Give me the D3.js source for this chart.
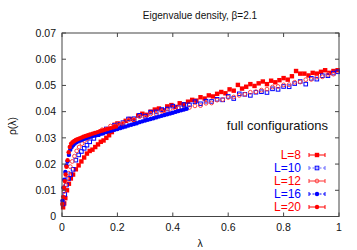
<!DOCTYPE html>
<html>
<head>
<meta charset="utf-8">
<script src="https://cdn.jsdelivr.net/npm/d3@7"></script>
<style>
  body { margin: 0; background: #fff; }
  text { font-family: 'Liberation Sans', Arial, sans-serif; }
</style>
</head>
<body>
<div class="display"></div>
<script>
const WIDTH = 357;
const HEIGHT = 250;
const PLOT = { left: 62, right: 339, top: 33, bottom: 216.5 };

const TITLE = 'Eigenvalue density, \u03b2=2.1';
const X_LABEL = '\u03bb';
const Y_LABEL = '\u03c1(\u03bb)';
const NOTE = 'full configurations';

const X_TICKS = [0, 0.2, 0.4, 0.6, 0.8, 1];
const X_TICK_LABELS = ['0', '0.2', '0.4', '0.6', '0.8', '1'];
const Y_TICKS = [0, 0.01, 0.02, 0.03, 0.04, 0.05, 0.06, 0.07];
const Y_TICK_LABELS = ['0', '0.01', '0.02', '0.03', '0.04', '0.05', '0.06', '0.07'];

const SERIES_NAMES = ['L=8', 'L=10', 'L=12', 'L=16', 'L=20'];

const L8_X = [0.004,0.008,0.012,0.018,0.025,0.032,0.04,0.05,0.06,0.07,0.08,0.09,0.1,0.11,0.12,0.13,0.14,0.15,0.16,0.17,0.18,0.19,0.2,0.215,0.23,0.245,0.26,0.275,0.29,0.305,0.32,0.335,0.35,0.365,0.38,0.395,0.41,0.425,0.44,0.455,0.47,0.485,0.5,0.515,0.53,0.545,0.56,0.575,0.59,0.605,0.62,0.635,0.65,0.665,0.68,0.695,0.71,0.725,0.74,0.755,0.77,0.785,0.8,0.815,0.83,0.845,0.86,0.875,0.89,0.905,0.92,0.935,0.95,0.965,0.98,0.995];
const L8_Y = [0.0035,0.005,0.007,0.010,0.0125,0.0145,0.016,0.018,0.0195,0.021,0.0225,0.024,0.025,0.0255,0.0265,0.0275,0.0285,0.029,0.030,0.031,0.0322,0.035,0.0355,0.0352,0.0365,0.0372,0.0368,0.0385,0.0392,0.0388,0.040,0.0408,0.0412,0.0405,0.042,0.0425,0.0418,0.0432,0.0428,0.0438,0.0445,0.0442,0.0455,0.045,0.0462,0.0458,0.0468,0.0475,0.047,0.0485,0.048,0.0502,0.0488,0.0495,0.0505,0.0498,0.0508,0.0515,0.0505,0.0518,0.0512,0.052,0.0528,0.0522,0.0535,0.0555,0.0545,0.0545,0.0538,0.0548,0.0545,0.0552,0.0558,0.0548,0.0555,0.0558];

const L10_X = [0.004,0.01,0.016,0.024,0.032,0.04,0.05,0.06,0.07,0.08,0.09,0.1,0.115,0.13,0.145,0.16,0.175,0.19,0.205,0.22,0.24,0.26,0.28,0.3,0.32,0.34,0.36,0.38,0.4,0.42,0.44,0.46,0.48,0.5,0.52,0.54,0.56,0.58,0.6,0.62,0.64,0.66,0.68,0.7,0.72,0.74,0.76,0.78,0.8,0.82,0.84,0.86,0.88,0.9,0.92,0.94,0.96,0.98,0.995];
const L10_Y = [0.0048,0.0085,0.012,0.0145,0.016,0.018,0.0215,0.0235,0.0248,0.026,0.0272,0.0285,0.0298,0.0312,0.0318,0.0334,0.0332,0.0348,0.0352,0.0358,0.0372,0.0373,0.0386,0.0383,0.0398,0.0399,0.0408,0.041,0.0421,0.0415,0.0427,0.0426,0.0438,0.043,0.044,0.0439,0.0447,0.0445,0.0458,0.045,0.0468,0.0466,0.0462,0.0474,0.0476,0.0473,0.0487,0.0485,0.0496,0.0495,0.0507,0.0515,0.0505,0.0527,0.0524,0.0537,0.0537,0.0547,0.0552];

const L12_X = [0.003,0.008,0.013,0.018,0.024,0.03,0.037,0.045,0.053,0.062,0.072,0.082,0.092,0.102,0.115,0.13,0.145,0.16,0.175,0.19,0.205,0.22,0.24,0.26,0.28,0.3,0.32,0.34,0.36,0.38,0.4,0.42,0.44,0.46,0.48,0.5,0.52,0.54,0.56,0.58,0.6,0.62,0.64,0.66,0.68,0.7,0.72,0.74,0.76,0.78,0.8,0.82,0.84,0.86,0.88,0.9,0.92,0.94,0.96,0.98];
const L12_Y = [0.006,0.0095,0.012,0.0145,0.0165,0.019,0.021,0.023,0.025,0.0265,0.0278,0.029,0.0298,0.0305,0.0315,0.0318,0.0331,0.0333,0.0345,0.0346,0.0355,0.0356,0.0368,0.037,0.0381,0.0379,0.0391,0.039,0.0401,0.04,0.0403,0.0413,0.041,0.0416,0.0422,0.0423,0.0432,0.0433,0.0444,0.0446,0.0454,0.0456,0.0462,0.0466,0.0474,0.0476,0.0482,0.0486,0.0494,0.0496,0.0502,0.0503,0.0512,0.0513,0.0522,0.0523,0.0532,0.0533,0.0542,0.0543];

const L16_X = [0.002,0.005,0.008,0.012,0.016,0.02,0.025,0.03,0.035,0.04,0.046,0.052,0.058,0.065,0.072,0.08,0.088,0.096,0.105,0.114,0.123,0.132,0.141,0.15,0.16,0.17,0.18,0.19,0.2,0.21,0.22,0.23,0.24,0.25,0.26,0.27,0.28,0.29,0.3,0.31,0.32,0.33,0.34,0.35,0.36,0.37,0.38,0.39,0.4,0.41,0.42,0.43,0.44,0.45];
const L16_Y = [0.006,0.011,0.014,0.017,0.0195,0.021,0.0235,0.0255,0.0265,0.0272,0.0278,0.0283,0.0287,0.029,0.0293,0.0296,0.0299,0.0302,0.0305,0.0308,0.031,0.0313,0.0316,0.0319,0.0322,0.0325,0.0328,0.0331,0.0334,0.0337,0.034,0.0343,0.0347,0.035,0.0353,0.0356,0.036,0.0363,0.0366,0.0369,0.0372,0.0375,0.0378,0.0381,0.0384,0.0387,0.039,0.0393,0.0396,0.0399,0.0402,0.0405,0.0408,0.0411];

const L20_X = [0.001,0.004,0.007,0.01,0.013,0.016,0.02,0.024,0.028,0.033,0.038,0.044,0.05,0.056,0.063,0.07,0.077,0.085,0.093,0.101,0.11,0.119,0.128,0.137,0.146,0.155,0.165,0.175,0.185,0.195];
const L20_Y = [0.0048,0.0075,0.011,0.0135,0.016,0.019,0.0215,0.0245,0.0265,0.0278,0.0283,0.0288,0.0292,0.0295,0.0298,0.0301,0.0304,0.0307,0.031,0.0313,0.0316,0.0319,0.0322,0.0325,0.0328,0.0331,0.0334,0.0337,0.034,0.0343];

const SERIES = [
  { name: SERIES_NAMES[0], xs: L8_X, ys: L8_Y, shape: 'square', fill: '#ff0000', stroke: 'none', text: '#ff0000', bar: '#ff0000', dash: null },
  { name: SERIES_NAMES[1], xs: L10_X, ys: L10_Y, shape: 'square', fill: 'none', stroke: '#0000ff', text: '#0000ff', bar: '#6666ff', dash: '2,1.5' },
  { name: SERIES_NAMES[2], xs: L12_X, ys: L12_Y, shape: 'circle', fill: 'none', stroke: '#ff4040', text: '#ff0000', bar: '#ff3030', dash: null },
  { name: SERIES_NAMES[3], xs: L16_X, ys: L16_Y, shape: 'circle', fill: '#0000ff', stroke: 'none', text: '#0000ff', bar: '#0000ff', dash: '2,1.5' },
  { name: SERIES_NAMES[4], xs: L20_X, ys: L20_Y, shape: 'circle', fill: '#ff0000', stroke: 'none', text: '#ff0000', bar: '#ff0000', dash: null }
];

const svg = d3.select('.display').append('svg')
  .attr('width', WIDTH)
  .attr('height', HEIGHT);

const x = d3.scaleLinear().domain([0, 1]).range([PLOT.left, PLOT.right]);
const y = d3.scaleLinear().domain([0, 0.07]).range([PLOT.bottom, PLOT.top]);

function drawMarker(g, shape, cx, cy, s) {
  if (shape === 'square') {
    const size = s.fill === 'none' ? 3.6 : 4.4;
    g.append('rect')
      .attr('x', cx - size / 2)
      .attr('y', cy - size / 2)
      .attr('width', size)
      .attr('height', size)
      .attr('fill', s.fill)
      .attr('stroke', s.stroke)
      .attr('stroke-width', 1);
  } else {
    g.append('circle')
      .attr('cx', cx)
      .attr('cy', cy)
      .attr('r', s.fill === 'none' ? 1.9 : 2.2)
      .attr('fill', s.fill)
      .attr('stroke', s.stroke)
      .attr('stroke-width', 1);
  }
}

// points
const pointGroup = svg.append('g');
SERIES.forEach(s => {
  const g = pointGroup.append('g');
  s.xs.forEach((v, i) => drawMarker(g, s.shape, x(v), y(s.ys[i]), s));
});

// frame and ticks
const axisGroup = svg.append('g').attr('stroke', '#444').attr('stroke-width', 1);
axisGroup.append('rect')
  .attr('x', PLOT.left)
  .attr('y', PLOT.top)
  .attr('width', PLOT.right - PLOT.left)
  .attr('height', PLOT.bottom - PLOT.top)
  .attr('fill', 'none');

X_TICKS.forEach(t => {
  axisGroup.append('line').attr('x1', x(t)).attr('x2', x(t)).attr('y1', PLOT.bottom).attr('y2', PLOT.bottom - 4);
  axisGroup.append('line').attr('x1', x(t)).attr('x2', x(t)).attr('y1', PLOT.top).attr('y2', PLOT.top + 4);
});
Y_TICKS.forEach(t => {
  axisGroup.append('line').attr('x1', PLOT.left).attr('x2', PLOT.left + 4).attr('y1', y(t)).attr('y2', y(t));
  axisGroup.append('line').attr('x1', PLOT.right).attr('x2', PLOT.right - 4).attr('y1', y(t)).attr('y2', y(t));
});

X_TICKS.forEach((t, i) => {
  svg.append('text')
    .attr('x', x(t))
    .attr('y', 231)
    .attr('text-anchor', 'middle')
    .style('font-size', '10.5px')
    .attr('fill', '#111')
    .text(X_TICK_LABELS[i]);
});
Y_TICKS.forEach((t, i) => {
  svg.append('text')
    .attr('x', 56)
    .attr('y', y(t) + 3.8)
    .attr('text-anchor', 'end')
    .style('font-size', '10.5px')
    .attr('fill', '#111')
    .text(Y_TICK_LABELS[i]);
});

// labels
svg.append('text')
  .attr('x', 200)
  .attr('y', 19)
  .attr('text-anchor', 'middle')
  .style('font-size', '10px')
  .attr('fill', '#111')
  .text(TITLE);

svg.append('text')
  .attr('x', 200)
  .attr('y', 247)
  .attr('text-anchor', 'middle')
  .style('font-size', '10.5px')
  .attr('fill', '#111')
  .text(X_LABEL);

svg.append('text')
  .attr('transform', 'translate(16, 126) rotate(-90)')
  .attr('text-anchor', 'middle')
  .style('font-size', '10.5px')
  .attr('fill', '#111')
  .text(Y_LABEL);

svg.append('text')
  .attr('x', 328)
  .attr('y', 130)
  .attr('text-anchor', 'end')
  .style('font-size', '13px')
  .attr('fill', '#111')
  .text(NOTE);

// legend
const legend = svg.append('g');
SERIES.forEach((s, i) => {
  const ly = 155 + i * 13;
  legend.append('text')
    .attr('x', 301)
    .attr('y', ly + 4.3)
    .attr('text-anchor', 'end')
    .style('font-size', '12px')
    .attr('fill', s.text)
    .text(s.name);
  legend.append('line')
    .attr('x1', 309).attr('x2', 325).attr('y1', ly).attr('y2', ly)
    .attr('stroke', s.bar).attr('stroke-width', 1)
    .attr('stroke-dasharray', s.dash);
  [309, 325].forEach(cx => {
    legend.append('line')
      .attr('x1', cx).attr('x2', cx).attr('y1', ly - 2).attr('y2', ly + 2)
      .attr('stroke', s.bar).attr('stroke-width', 1);
  });
  drawMarker(legend, s.shape, 317, ly, s);
});
</script>
</body>
</html>
